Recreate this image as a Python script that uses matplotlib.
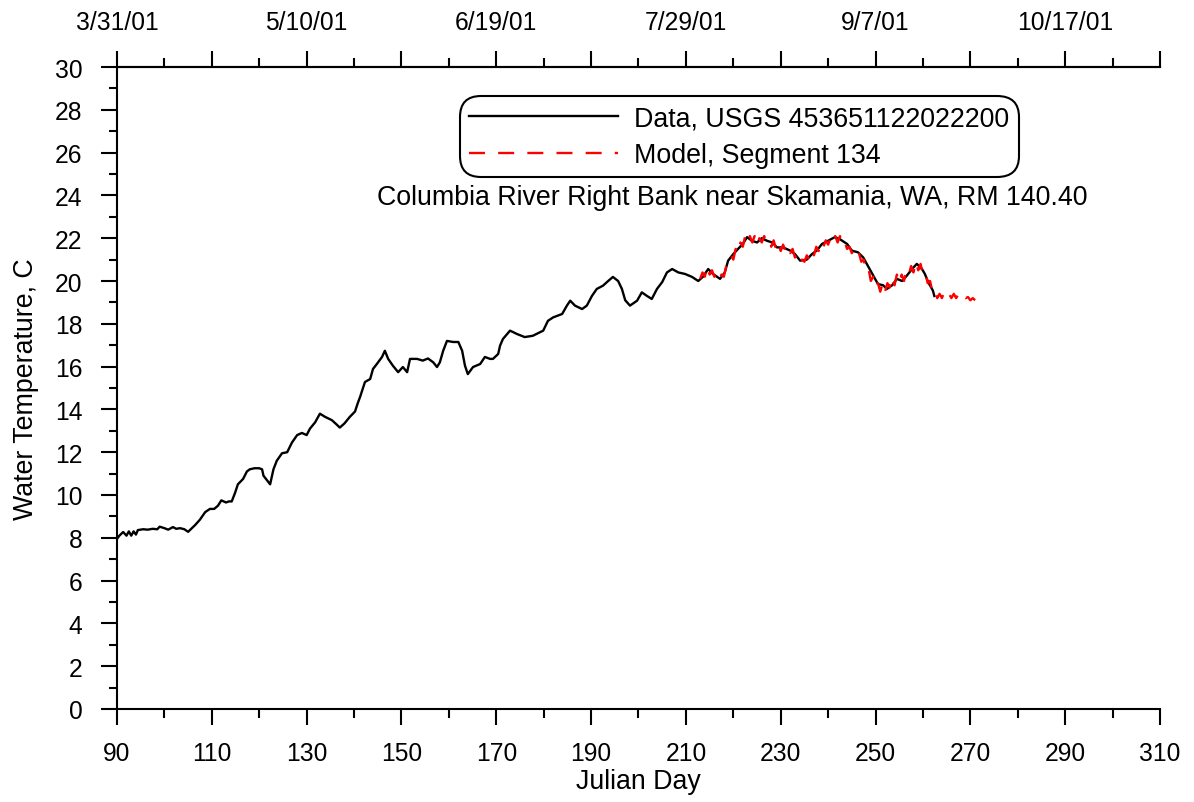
import matplotlib
matplotlib.use("Agg")
import matplotlib.pyplot as plt
from matplotlib.ticker import MultipleLocator, FixedLocator, FixedFormatter

plt.rcParams['font.family'] = ['Liberation Sans', 'DejaVu Sans']
plt.rcParams['lines.scale_dashes'] = False

FS_TICK = 17.7
FS_TEXT = 19.3

# Observed data (Julian day, water temperature C)
data_day = [90.0, 90.5, 91.3, 92.0, 92.5, 93.0, 93.5, 94.0, 94.4, 95.5, 96.5, 97.5, 98.5, 99.0,
            100.0, 100.8, 101.8, 102.5, 103.3, 104.2, 105.0, 105.8, 106.5, 107.5, 108.6, 109.6,
            110.5, 111.3, 112.0, 113.0, 113.6, 114.2, 114.9, 115.5, 116.6, 117.4, 118.0, 119.0,
            120.0, 120.6, 120.9, 122.3, 123.0, 123.7, 124.8, 125.9, 126.9, 128.0, 129.0, 130.0,
            130.7, 131.8, 132.8, 133.9, 135.3, 136.3, 137.0, 138.0, 139.1, 140.2, 140.8, 141.3,
            142.3, 143.4, 144.0, 144.8, 145.9, 146.5, 147.2, 148.2, 149.3, 150.3, 151.2, 151.8,
            153.3, 154.5, 155.6, 156.7, 157.5, 158.1, 158.8, 159.6, 160.9, 162.0, 162.8, 163.4,
            164.0, 165.1, 166.6, 167.6, 168.7, 169.3, 170.4, 170.8, 171.4, 172.9, 174.4, 176.0,
            177.7, 179.9, 180.9, 182.0, 183.9, 184.9, 185.6, 186.6, 188.1, 189.1, 190.2, 191.2,
            192.5, 193.6, 194.6, 195.7, 196.5, 197.2, 198.2, 199.7, 200.7, 201.8, 202.8, 203.9,
            205.0, 206.0, 207.1, 208.4, 209.8, 211.3, 212.6, 213.6, 214.7, 215.7, 217.2, 218.2,
            218.9, 220.0, 221.0, 222.0, 222.9, 223.9, 225.0, 226.0, 227.1, 228.2, 229.2, 230.5,
            232.0, 233.0, 234.1, 235.5, 236.6, 237.6, 238.7, 240.0, 241.4, 242.5, 244.0, 245.0,
            246.3, 247.4, 248.4, 249.5, 250.5, 251.6, 252.4, 253.5, 254.5, 255.6, 256.6, 257.7,
            258.7, 259.8, 260.4, 261.1, 262.1, 262.4]
data_temp = [7.95, 8.1, 8.27, 8.1, 8.3, 8.1, 8.3, 8.15, 8.36, 8.4, 8.38, 8.42, 8.4, 8.52,
             8.45, 8.38, 8.5, 8.42, 8.45, 8.4, 8.28, 8.45, 8.6, 8.85, 9.2, 9.35,
             9.35, 9.5, 9.75, 9.65, 9.7, 9.7, 10.1, 10.5, 10.75, 11.1, 11.2, 11.25,
             11.25, 11.2, 10.9, 10.5, 11.2, 11.6, 11.95, 12.0, 12.45, 12.8, 12.9, 12.8,
             13.1, 13.4, 13.8, 13.65, 13.5, 13.3, 13.15, 13.35, 13.65, 13.9, 14.3, 14.6,
             15.28, 15.42, 15.89, 16.12, 16.45, 16.74, 16.36, 16.04, 15.74, 15.98, 15.74, 16.36,
             16.36, 16.28, 16.38, 16.2, 15.98, 16.2, 16.74, 17.2, 17.15, 17.15, 16.74, 16.04,
             15.65, 15.98, 16.12, 16.45, 16.36, 16.36, 16.59, 16.98, 17.29, 17.68, 17.52, 17.38,
             17.44, 17.68, 18.14, 18.3, 18.46, 18.85, 19.08, 18.85, 18.69, 18.85, 19.31, 19.63,
             19.78, 20.0, 20.19, 20.0, 19.63, 19.1, 18.85, 19.08, 19.47, 19.3, 19.16, 19.63,
             19.95, 20.4, 20.56, 20.4, 20.33, 20.19, 20.0, 20.2, 20.56, 20.33, 20.1, 20.4,
             20.95, 21.26, 21.5, 21.73, 22.05, 21.88, 21.8, 22.0, 21.88, 21.8, 21.57, 21.57,
             21.42, 21.26, 20.95, 21.0, 21.26, 21.42, 21.73, 21.88, 22.05, 21.95, 21.73, 21.42,
             21.34, 21.1, 20.7, 20.25, 19.86, 19.8, 19.63, 19.8, 20.1, 20.0, 20.25, 20.56,
             20.8, 20.56, 20.33, 19.95, 19.55, 19.3]

# Model output, Segment 134
model_day = [213.0 + 0.5 * i for i in range(117)]
model_temp = [20.1, 20.4, 20.2, 20.7, 20.3, 20.5, 20.2, 20.3, 20.0, 20.3, 20.2, 20.7, 20.8, 21.2,
              21.0, 21.5, 21.3, 21.8, 21.6, 22.1, 21.8, 22.1, 21.8, 22.1, 21.7, 22.0, 21.8, 22.1,
              21.8, 21.9, 21.6, 21.9, 21.5, 21.8, 21.4, 21.7, 21.4, 21.6, 21.3, 21.5, 21.1, 21.3,
              20.9, 21.0, 20.9, 21.2, 21.0, 21.4, 21.2, 21.6, 21.4, 21.8, 21.6, 21.9, 21.7, 22.0,
              21.8, 22.1, 21.8, 22.1, 21.7, 21.8, 21.5, 21.6, 21.3, 21.5, 21.2, 21.3, 20.9, 21.0,
              20.5, 20.6, 20.0, 20.2, 19.7, 19.9, 19.5, 19.9, 19.5, 19.9, 19.7, 20.2, 19.8, 20.3,
              19.9, 20.3, 20.0, 20.5, 20.3, 20.7, 20.4, 20.9, 20.5, 20.8, 20.3, 20.4, 19.9, 20.0,
              19.5, 19.6, 19.2, 19.4, 19.2, 19.5, 19.3, 19.4, 19.2, 19.4, 19.2, 19.4, 19.2, 19.3,
              19.2, 19.25, 19.1, 19.2, 19.1]

x_major_days = [90, 110, 130, 150, 170, 190, 210, 230, 250, 270, 290, 310]
x_minor_days = [100, 120, 140, 160, 180, 200, 220, 240, 260, 280, 300]
top_tick_labels = ['3/31/01', '', '5/10/01', '', '6/19/01', '', '7/29/01', '', '9/7/01', '', '10/17/01', '']

fig = plt.figure(figsize=(11.94, 8.03), dpi=100)
ax = fig.add_axes([117/1194, 1 - 710/803, (1160-117)/1194, (710-68)/803])

ax.plot(data_day, data_temp, color='black', lw=1.7, label='Data, USGS 453651122022200')
ax.plot(model_day, model_temp, color='red', lw=1.7, dashes=(11.5, 9.5), label='Model, Segment 134')

ax.set_xlim(90, 310)
ax.set_ylim(0, 30)
ax.xaxis.set_major_locator(FixedLocator(x_major_days))
ax.xaxis.set_minor_locator(FixedLocator(x_minor_days))
ax.yaxis.set_major_locator(MultipleLocator(2))
ax.yaxis.set_minor_locator(MultipleLocator(1))

for s in ['left', 'bottom', 'top']:
    ax.spines[s].set_linewidth(1.5)
ax.spines['right'].set_visible(False)

ax.tick_params(axis='x', which='major', direction='out', length=11.5, width=1.5, labelsize=FS_TICK, pad=11.5)
ax.tick_params(axis='x', which='minor', direction='out', length=6.5, width=1.5)
ax.tick_params(axis='y', which='major', direction='out', length=11.8, width=1.5, labelsize=FS_TICK, pad=13)
ax.tick_params(axis='y', which='minor', direction='out', length=6.1, width=1.5)

ax.set_xlabel('Julian Day', fontsize=FS_TEXT, labelpad=2)
ax.set_ylabel('Water Temperature, C', fontsize=FS_TEXT, labelpad=11.5)

top = ax.secondary_xaxis('top')
top.xaxis.set_major_locator(FixedLocator(x_major_days))
top.xaxis.set_major_formatter(FixedFormatter(top_tick_labels))
top.xaxis.set_minor_locator(FixedLocator(x_minor_days))
top.spines['top'].set_linewidth(1.5)
top.tick_params(axis='x', which='major', direction='out', length=11.5, width=1.5, labelsize=FS_TICK, pad=12.2)
top.tick_params(axis='x', which='minor', direction='out', length=6.5, width=1.5)

leg = ax.legend(loc='upper left', bbox_to_anchor=((460-117)/1043, (710-97)/642),
                fontsize=FS_TEXT, frameon=True, fancybox=True, handlelength=5.55,
                handletextpad=0.6, borderpad=0.35, labelspacing=0.4, borderaxespad=0)
fr = leg.get_frame()
fr.set_edgecolor('black')
fr.set_linewidth(1.5)
fr.set_alpha(1)
fr.set_boxstyle('round', pad=0, rounding_size=0.8)

ax.text((732-117)/1043, (710-198)/642, 'Columbia River Right Bank near Skamania, WA, RM 140.40',
        transform=ax.transAxes, ha='center', va='center', fontsize=FS_TEXT)

fig.savefig('out.png', dpi=100)
